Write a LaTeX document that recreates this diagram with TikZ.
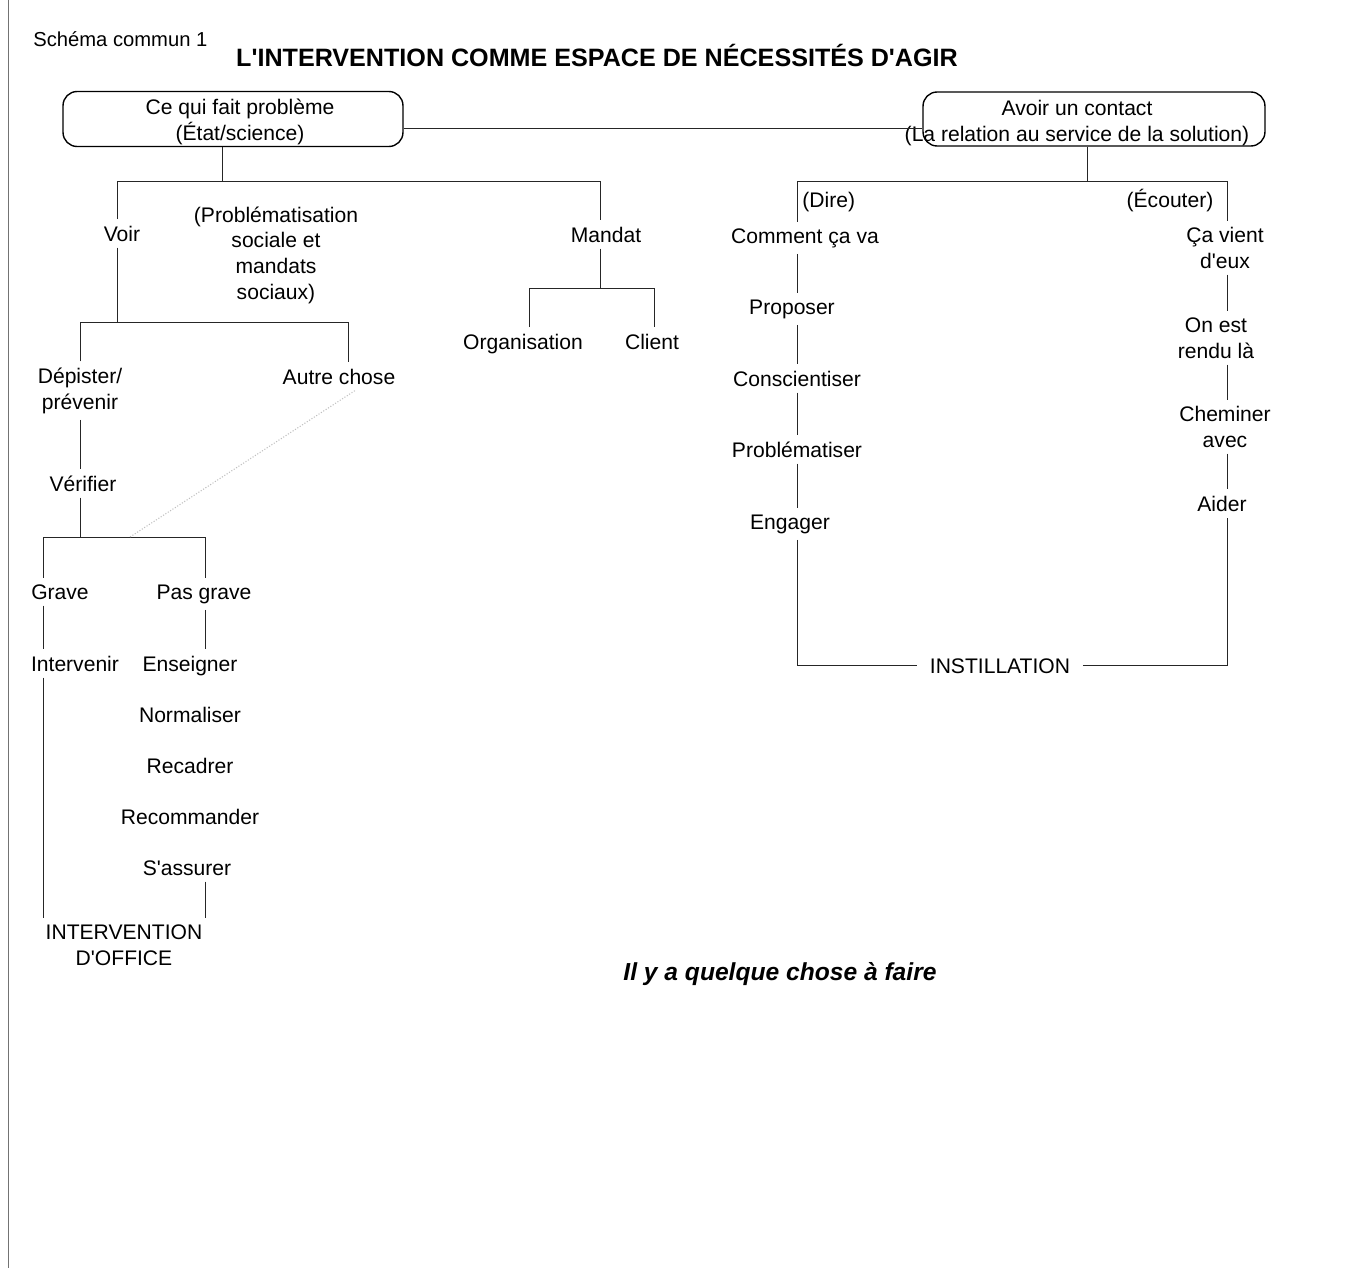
\documentclass[tikz,border=0pt]{standalone}
\usepackage{fontspec}
\setmainfont{Liberation Sans}[Ligatures=TeXOff]
\begin{document}
\begin{tikzpicture}[x=0.02cm,y=-0.02cm,
  lbl/.style={font=\fontsize{12}{14.6}\selectfont, align=center, anchor=base, inner sep=3.5pt},
  boxn/.style={draw, rounded corners=8pt, line width=0.8pt, inner sep=0pt},
  conn/.style={line width=0.5pt, draw=black!85},
  faint/.style={line width=0.6pt, draw=black!25, densely dotted}]
\useasboundingbox (0,0) rectangle (1357,1268);
\fill[white] (0,0) rectangle (1357,1268);
% page edge
\draw[black!55, line width=0.5pt] (8,0) -- (8,1268);

% headings
\node[font=\fontsize{11.5}{14}\selectfont, anchor=base west, inner sep=0pt] (sch) at (33,46) {Schéma commun 1};
\node[font=\bfseries\fontsize{14.3}{17}\selectfont, anchor=base, inner sep=0pt] (ttl) at (597,66) {L'INTERVENTION COMME ESPACE DE NÉCESSITÉS D'AGIR};

% two starting boxes (multi-line labels are placed by their last baseline)
\node[boxn, minimum width=6.8cm, minimum height=1.1cm] (pb) at (233,119) {};
\node[lbl, inner sep=0pt] (pbt) at (240,140) {Ce qui fait problème\\(État/science)};
\node[boxn, minimum width=6.84cm, minimum height=1.08cm] (contact) at (1094,119) {};
\node[lbl, inner sep=0pt] (contactt) at (1077,141) {Avoir un contact\\(La relation au service de la solution)};

% left tree labels
\node[lbl] (voir) at (122,241) {Voir};
\node[lbl] (probl) at (276,299) {(Problématisation\\sociale et\\mandats\\sociaux)};
\node[lbl] (mandat) at (606,242) {Mandat};
\node[lbl] (org) at (523,349) {Organisation};
\node[lbl] (client) at (652,349) {Client};
\node[lbl] (dep) at (80,409) {Dépister/\\prévenir};
\node[lbl] (autre) at (339,384) {Autre chose};
\node[lbl] (ver) at (83,491) {Vérifier};
\node[lbl] (grave) at (60,599) {Grave};
\node[lbl] (pasg) at (204,599) {Pas grave};
\node[lbl] (interv) at (75,671) {Intervenir};
\node[lbl] (ens) at (190,671) {Enseigner};
\node[lbl] (norm) at (190,722) {Normaliser};
\node[lbl] (recad) at (190,773) {Recadrer};
\node[lbl] (recom) at (190,824) {Recommander};
\node[lbl] (sass) at (187,875) {S'assurer};
\node[lbl] (io) at (124,965) {INTERVENTION\\D'OFFICE};

% right tree labels
\node[lbl, anchor=base west, inner sep=0pt] (dire) at (802,207) {(Dire)};
\node[lbl] (ecout) at (1170,207) {(Écouter)};
\node[lbl] (comment) at (805,243) {Comment ça va};
\node[lbl] (prop) at (792,314) {Proposer};
\node[lbl] (consc) at (797,386) {Conscientiser};
\node[lbl] (probm) at (797,457) {Problématiser};
\node[lbl] (eng) at (790,529) {Engager};
\node[lbl] (cav) at (1225,268) {Ça vient\\d'eux};
\node[lbl] (onest) at (1216,358) {On est\\rendu là};
\node[lbl] (chem) at (1225,447) {Cheminer\\avec};
\node[lbl] (aider) at (1222,511) {Aider};
\node[lbl, inner xsep=7pt] (inst) at (1000,673) {INSTILLATION};

\node[font=\bfseries\itshape\fontsize{14}{17}\selectfont, anchor=base, inner sep=0pt] (faire) at (780,980) {Il y a quelque chose à faire};

% junction points
\coordinate (hl) at (0,128);
\coordinate (c1) at (222,181);
\coordinate (h1a) at (117,181);
\coordinate (h1b) at (600,181);
\coordinate (vx) at (117,322);
\coordinate (h2a) at (80,322);
\coordinate (h2b) at (348,322);
\coordinate (m0) at (600,288);
\coordinate (m1) at (529,288);
\coordinate (m2) at (654,288);
\coordinate (k1) at (80,0);
\coordinate (g0) at (80,537);
\coordinate (g1) at (43,537);
\coordinate (g2) at (205,537);
\coordinate (d1) at (130,537);
\coordinate (r0) at (1087,181);
\coordinate (r1) at (797,181);
\coordinate (r2) at (1227,181);

% connectors, problem side
\draw[conn] (pb.east |- hl) -- (contact.west |- hl);
\draw[conn] (pb.south -| c1) -- (c1);
\draw[conn] (h1a |- voir.north) -- (h1a) -- (h1b) -- (h1b |- mandat.north);
\draw[conn] (voir.south -| vx) -- (vx);
\draw[conn] (h2a |- dep.north) -- (h2a) -- (h2b) -- (h2b |- autre.north);
\draw[conn] (mandat.south -| m0) -- (m0);
\draw[conn] (m1 |- org.north) -- (m1) -- (m2) -- (m2 |- client.north);
\draw[conn] (dep.south -| k1) -- (ver.north -| k1);
\draw[conn] (ver.south -| g0) -- (g0);
\draw[conn] (g1 |- grave.north) -- (g1) -- (g2) -- (g2 |- pasg.north);
\draw[faint] ([xshift=9pt]autre.south) -- (d1);
\draw[conn] (g1 |- grave.south) -- (g1 |- interv.north);
\draw[conn] (g2 |- pasg.south) -- (g2 |- ens.north);
\draw[conn] (g1 |- interv.south) -- (g1 |- io.north);
\draw[conn] (g2 |- sass.south) -- (g2 |- io.north);

% connectors, contact side
\draw[conn] (contact.south -| r0) -- (r0);
\draw[conn] (r1 |- comment.north) -- (r1) -- (r2) -- (r2 |- cav.north);
\draw[conn] (r1 |- comment.south) -- (r1 |- prop.north);
\draw[conn] (r1 |- prop.south) -- (r1 |- consc.north);
\draw[conn] (r1 |- consc.south) -- (r1 |- probm.north);
\draw[conn] (r1 |- probm.south) -- (r1 |- eng.north);
\draw[conn] (r1 |- eng.south) |- (inst.west);
\draw[conn] (inst.east) -| (r2 |- aider.south);
\draw[conn] (r2 |- cav.south) -- (r2 |- onest.north);
\draw[conn] (r2 |- onest.south) -- (r2 |- chem.north);
\draw[conn] (r2 |- chem.south) -- (r2 |- aider.north);
\end{tikzpicture}
\end{document}
